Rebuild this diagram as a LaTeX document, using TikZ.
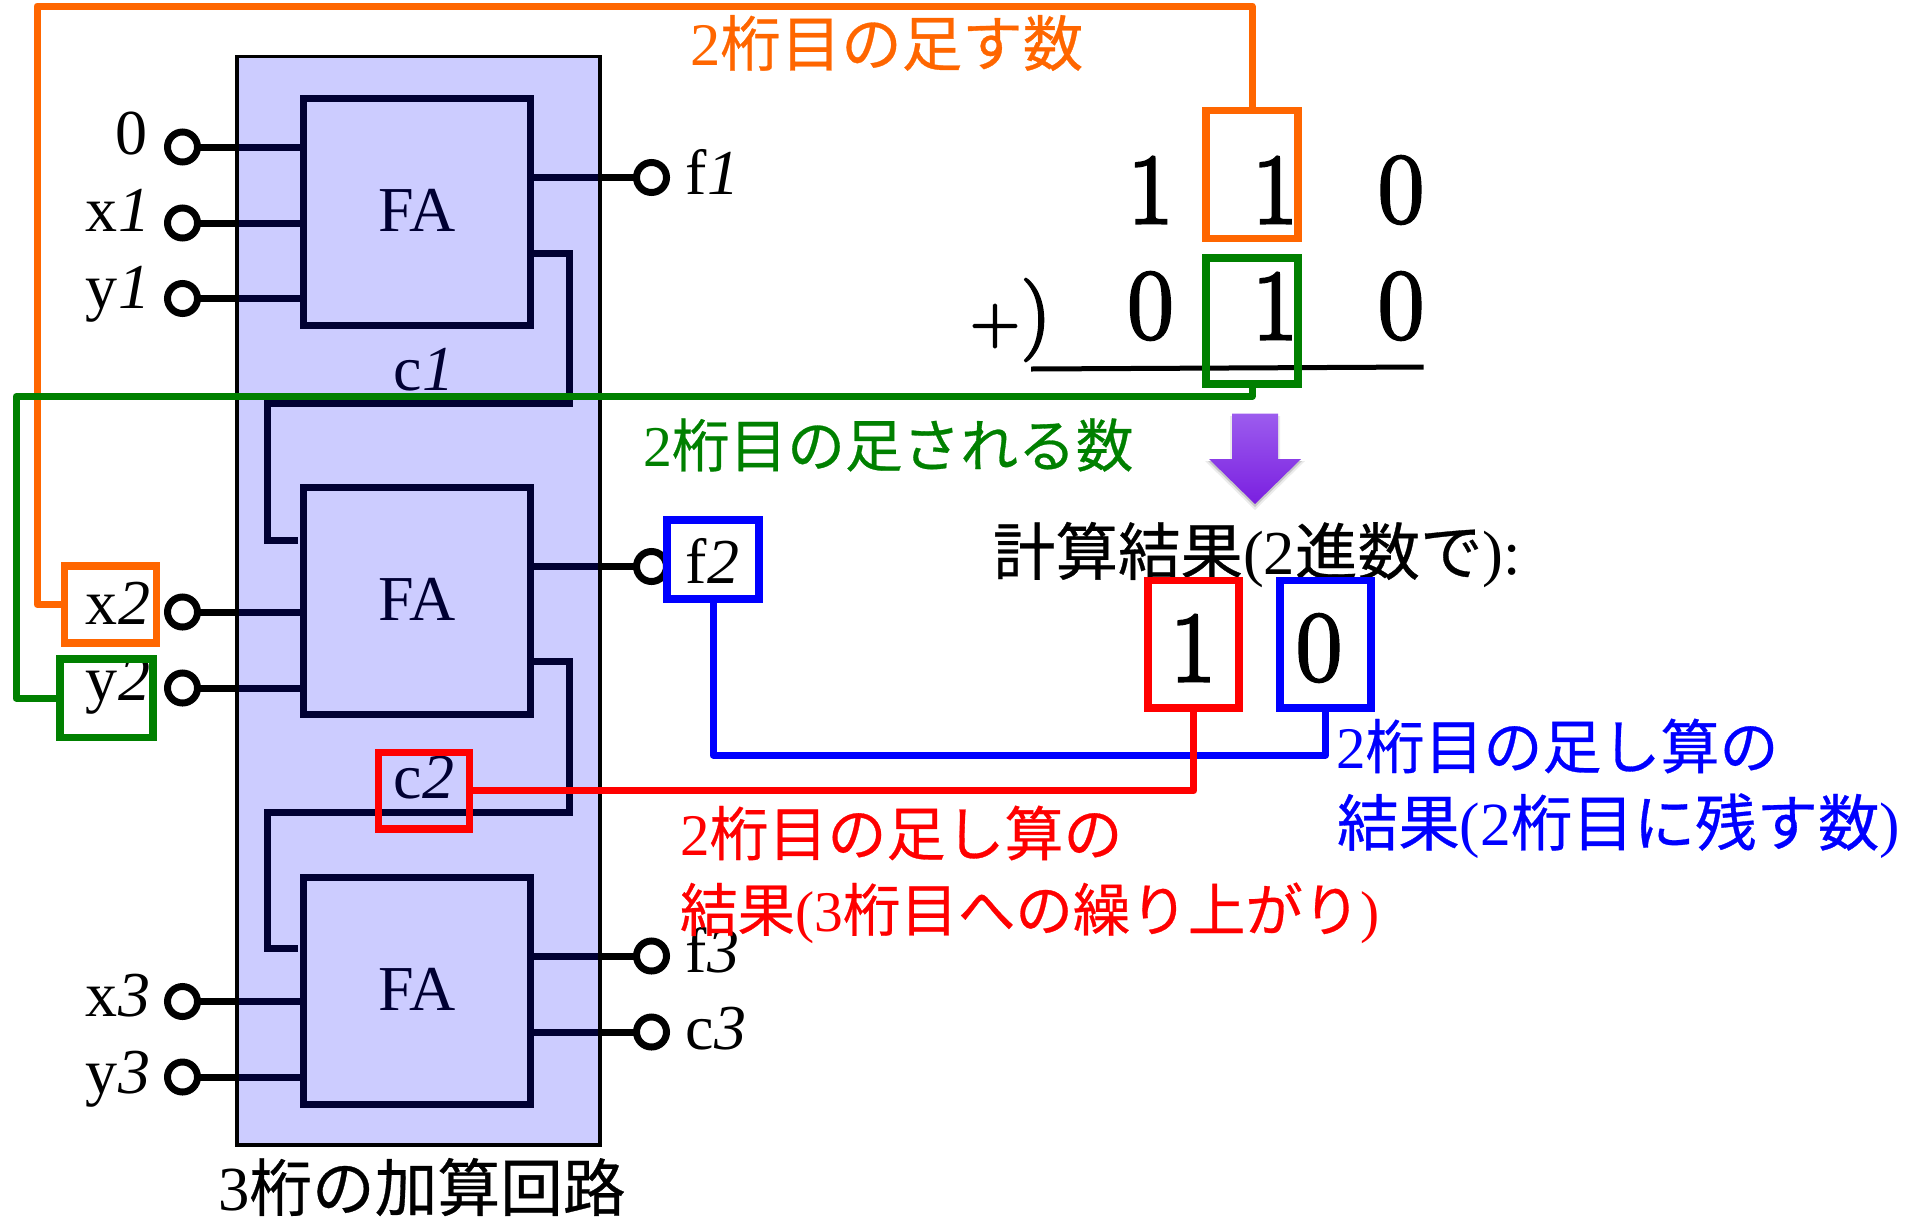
\documentclass[tikz,border=0pt]{standalone}
\usepackage{fontspec}
\newfontfamily\lat{Liberation Serif}
\newfontfamily\jp[FakeBold=0.5]{Noto Sans CJK JP}
\newfontfamily\bigd[FakeBold=3]{Latin Modern Roman}
\newcommand{\sz}[1]{\fontsize{#1}{#1}\selectfont}
\newcommand{\lab}[2]{{\lat #1\hspace{1.5pt}\textit{#2}}}
\definecolor{corange}{HTML}{FF6600}
\definecolor{cgreen}{HTML}{008000}
\definecolor{cblue}{HTML}{0000FF}
\definecolor{cred}{HTML}{FF0000}
\definecolor{ptop}{HTML}{9C5CEE}
\definecolor{pbot}{HTML}{7A1FE0}
\tikzset{
  x=1pt,y=-1pt,
  wire/.style={line width=7pt,line join=miter},
  term/.style={circle,draw,fill=white,line width=7pt,minimum size=30pt,inner sep=0pt,outer sep=0pt},
  fa/.style={rectangle,draw,line width=7pt,minimum width=227pt,minimum height=227pt,inner sep=0pt,outer sep=0pt,font=\lat\sz{64}},
  sig/.style={inner sep=0pt,outer sep=0pt,anchor=base west,font=\sz{64}},
  hbox/.style={rectangle,draw,line width=7.5pt,inner sep=0pt,outer sep=0pt,minimum width=#1},
  link/.style={line width=7pt,line join=round},
  digit/.style={inner sep=0pt,outer sep=0pt,font=\bigd\sz{100}},
  caption/.style={inner sep=0pt,outer sep=0pt,anchor=west},
}
\begin{document}
\begin{tikzpicture}
\useasboundingbox (0,0) rectangle (1913,1216);
% terminals
\node[term] (t0) at (182.5,147) {};
\node[term] (tx1) at (182.5,223) {};
\node[term] (ty1) at (182.5,298.5) {};
\node[term] (tx2) at (182.5,612) {};
\node[term] (ty2) at (182.5,688) {};
\node[term] (tx3) at (182.5,1001.5) {};
\node[term] (ty3) at (182.5,1077) {};
\node[term] (tf1) at (651.5,177.5) {};
\node[term] (tf2) at (651.5,566.5) {};
\node[term] (tf3) at (651.5,956) {};
\node[term] (tc3) at (651.5,1032) {};
% full adders
\node[fa] (fa1) at (417,211.5) {\raisebox{2pt}{FA}};
\node[fa] (fa2) at (417,600.5) {\raisebox{1.5pt}{FA}};
\node[fa] (fa3) at (417,990.5) {\raisebox{1.5pt}{FA}};
% wires
\foreach \a/\b in {t0/fa1,tx1/fa1,ty1/fa1,tx2/fa2,ty2/fa2,tx3/fa3,ty3/fa3}
  \draw[wire] (\a.east) -- (\b.west |- \a.east);
\foreach \a/\b in {tf1/fa1,tf2/fa2,tf3/fa3,tc3/fa3}
  \draw[wire] (\a.west) -- (\b.east |- \a.west);
\coordinate (c1start) at (531,253);
\coordinate (c1bend) at (569.5,403);
\coordinate (c1in) at (297.5,540);
\coordinate (c2start) at (531,661);
\coordinate (c2bend) at (569.5,812.5);
\coordinate (c2in) at (297.5,948.5);
\draw[wire] (c1start) -| (c1bend) -| (267,540) -- (c1in);
\draw[wire] (c2start) -| (c2bend) -| (267,948.5) -- (c2in);
\node[sig] (lc1) at (393,390.5) {\lab{c}{1}};
\node[sig] (lc2) at (393,798) {\lab{c}{2}};
% adder panel, tints whatever lies under it
\node[rectangle,draw=black,line width=3.5pt,fill=cblue,fill opacity=0.2,draw opacity=1,
      minimum width=363pt,minimum height=1088.5pt,inner sep=0pt,outer sep=0pt] (adder) at (418.5,600.75) {};
% signal labels
\node[sig,font=\lat\sz{64}] (l0) at (115,154) {0};
\node[sig] (lx1) at (85,231) {\lab{x}{1}};
\node[sig] (ly1) at (85,308) {\lab{y}{1}};
\node[sig] (lx2) at (85,624.5) {\lab{x}{2}};
\node[sig] (ly2) at (85,700) {\lab{y}{2}};
\node[sig] (lx3) at (85,1016.5) {\lab{x}{3}};
\node[sig] (ly3) at (85,1093) {\lab{y}{3}};
\node[sig] (lf1) at (685,194) {\lab{f}{1}};
\node[sig] (lf2) at (685,583) {\lab{f}{2}};
\node[sig] (lf3) at (685,972.5) {\lab{f}{3}};
\node[sig] (lc3) at (685,1049) {\lab{c}{3}};
\node[caption,font=\sz{62.7}] (cap) at (218,1187) {{\lat 3}{\jp 桁の加算回路}};
% sum
\node[digit] (d11) at (1150.5,190) {1};
\node[digit] (d12) at (1275,190) {1};
\node[digit] (d13) at (1401,190) {0};
\node[digit] (d21) at (1150.5,306) {0};
\node[digit] (d22) at (1275,306) {1};
\node[digit] (d23) at (1401,306) {0};
\node[inner sep=0pt,outer sep=0pt,font=\bigd\sz{68}] (plus) at (995,326) {+};
\node[inner sep=0pt,outer sep=0pt,font=\bigd\sz{82}] (paren) at (1036,320) {)};
\coordinate (ruleL) at (1031,369);
\coordinate (ruleR) at (1423.5,367);
\draw[line width=5pt] (ruleL) -- (ruleR);
% arrow
\path[fill=black,fill opacity=0.08] (1230,416) -- (1280,416) -- (1280,461) -- (1305,461) -- (1255,510) -- (1205,461) -- (1230,461) -- cycle;
\path[fill=black,fill opacity=0.15] (1232,416) -- (1278,416) -- (1278,461) -- (1302,461) -- (1255,507) -- (1208,461) -- (1232,461) -- cycle;
\shade[top color=ptop,bottom color=pbot] (1232,413.5) -- (1278,413.5) -- (1278,459) -- (1301,459) -- (1255,504) -- (1209,459) -- (1232,459) -- cycle;
% result
\node[caption,font=\sz{62.5}] (res) at (993,555) {{\jp 計算結果}{\lat (2}{\jp 進数で}{\lat ):}};
\node[digit] (r1d) at (1193,648) {1};
\node[digit] (r0d) at (1319,648) {0};
% highlight boxes
\node[hbox=92pt,draw=corange,minimum height=128pt] (o1) at (1252,174.5) {};
\node[hbox=92pt,draw=cgreen,minimum height=126pt] (g1) at (1252,321) {};
\node[hbox=92pt,draw=corange,minimum height=77pt] (ox2) at (110.5,604.5) {};
\node[hbox=93pt,draw=cgreen,minimum height=78.5pt] (gy2) at (106.5,698) {};
\node[hbox=92pt,draw=cblue,minimum height=79pt] (bf2) at (713,559.5) {};
\node[hbox=91pt,draw=cred,minimum height=76.5pt] (rc2) at (424,790.75) {};
\node[hbox=91pt,draw=cred,minimum height=127.5pt] (r1) at (1193.7,644) {};
\node[hbox=91pt,draw=cblue,minimum height=127.5pt] (b0) at (1325.6,644) {};
% links
\draw[link,corange] (ox2.west) -| (37,6) -| (o1.north);
\draw[link,cgreen] (gy2.west) -| (16,396.5) -| (g1.south);
\coordinate (bjoin) at (1325.6,755);
\draw[link,cblue] (bf2.south) |- (bjoin) -- (b0.south);
\draw[link,cred] (rc2.east) -| (r1.south);
% captions
\node[caption,text=corange,font=\sz{60.5}] (t2a) at (690,43) {{\lat 2}{\jp 桁目の足す数}};
\node[caption,text=cgreen,font=\sz{57.7}] (t2b) at (643,445) {{\lat 2}{\jp 桁目の足される数}};
\node[caption,text=cblue,font=\sz{59}] (tb1) at (1336,746) {{\lat 2}{\jp 桁目の足し算の}};
\node[caption,text=cblue,font=\sz{61.4}] (tb2) at (1337,826) {{\jp 結果}{\lat (2}{\jp 桁目に残す数}{\lat )}};
\node[caption,text=cred,font=\sz{59}] (tr1) at (680,833) {{\lat 2}{\jp 桁目の足し算の}};
\node[caption,text=cred,font=\sz{57.5}] (tr2) at (680,913) {{\jp 結果}{\lat (3}{\jp 桁目への繰り上がり}{\lat )}};
\end{tikzpicture}
\end{document}
